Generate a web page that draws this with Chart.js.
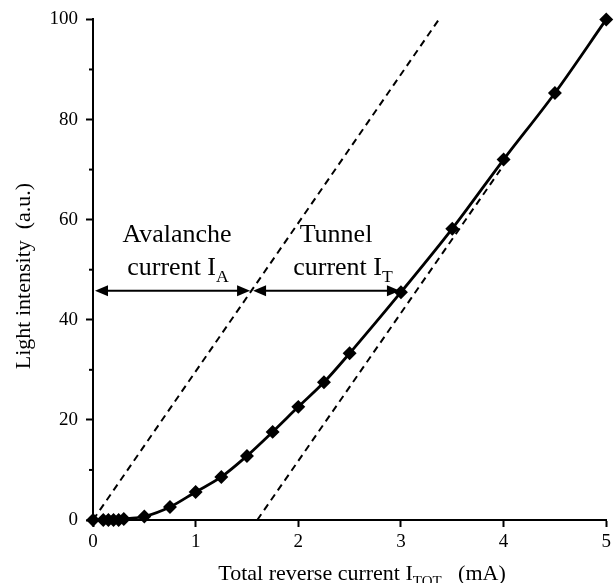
<!DOCTYPE html>
<html>
<head>
<meta charset="utf-8">
<script src="https://cdn.jsdelivr.net/npm/chart.js@4"></script>
<style>
  html, body { margin: 0; padding: 0; background: #fff; }
  #wrap { width: 615px; height: 583px; }
</style>
</head>
<body>
<div id="wrap"><canvas id="myChart"></canvas></div>
<script>
// measured curve
const currentMA = [0, 0.1, 0.15, 0.2, 0.25, 0.3, 0.5, 0.75, 1, 1.25, 1.5, 1.75, 2, 2.25, 2.5, 3, 3.5, 4, 4.5, 5];
const lightAU   = [0, 0, 0, 0, 0, 0.2, 0.7, 2.6, 5.6, 8.6, 12.8, 17.6, 22.6, 27.5, 33.3, 45.5, 58.2, 72, 85.3, 100];

// dashed guide lines
const avalancheX = [0, 3.37];
const avalancheY = [0, 100];
const tunnelX = [1.6, 3.97];
const tunnelY = [0, 70];

// arrows between the guides
const arrowY = 45.8;
const arrowStops = [0, 1.54, 3.0];

// axes
const xTicks = [0, 1, 2, 3, 4, 5];
const yTicks = [0, 20, 40, 60, 80, 100];
const yMinor = [10, 30, 50, 70, 90];

const SERIF = '"Liberation Serif", "DejaVu Serif", serif';

function pts(xs, ys) {
  return xs.map((x, i) => ({ x: x, y: ys[i] }));
}

// text with a subscript part
function drawSub(ctx, x, y, parts, size) {
  let cx = x;
  parts.forEach(p => {
    const sz = p.sub ? size * 0.68 : size;
    ctx.font = sz + 'px ' + SERIF;
    ctx.fillText(p.t, cx, p.sub ? y + size * 0.25 : y);
    cx += ctx.measureText(p.t).width;
  });
}
function widthSub(ctx, parts, size) {
  let w = 0;
  parts.forEach(p => {
    ctx.font = (p.sub ? size * 0.68 : size) + 'px ' + SERIF;
    w += ctx.measureText(p.t).width;
  });
  return w;
}

function arrowHead(ctx, x, y, dir) {
  ctx.beginPath();
  ctx.moveTo(x, y);
  ctx.lineTo(x - dir * 13, y - 5.5);
  ctx.lineTo(x - dir * 13, y + 5.5);
  ctx.closePath();
  ctx.fill();
}

const extras = {
  id: 'extras',
  afterDatasetsDraw(chart) {
    const ctx = chart.ctx;
    const xs = chart.scales.x, ys = chart.scales.y;
    ctx.save();
    ctx.strokeStyle = '#000';
    ctx.fillStyle = '#000';
    ctx.lineWidth = 2;
    const py = ys.getPixelForValue(arrowY);
    for (let i = 0; i < arrowStops.length - 1; i++) {
      const a = xs.getPixelForValue(arrowStops[i]) + 2;
      const b = xs.getPixelForValue(arrowStops[i + 1]) - 1;
      ctx.beginPath();
      ctx.moveTo(a + 4, py);
      ctx.lineTo(b - 4, py);
      ctx.stroke();
      arrowHead(ctx, a, py, -1);
      arrowHead(ctx, b, py, 1);
    }
    // minor ticks on y
    const left = chart.chartArea.left;
    yMinor.forEach(v => {
      const y = ys.getPixelForValue(v);
      ctx.beginPath();
      ctx.moveTo(left - 4, y);
      ctx.lineTo(left, y);
      ctx.stroke();
    });
    ctx.restore();
  },
  afterDraw(chart) {
    const ctx = chart.ctx;
    ctx.save();
    ctx.fillStyle = '#000';
    ctx.textBaseline = 'alphabetic';
    ctx.textAlign = 'left';

    const big = 26;
    ctx.font = big + 'px ' + SERIF;
    let w = ctx.measureText('Avalanche').width;
    ctx.fillText('Avalanche', 177 - w / 2, 242);
    let p = [{ t: 'current I' }, { t: 'A', sub: true }];
    w = widthSub(ctx, p, big);
    drawSub(ctx, 178 - w / 2, 275, p, big);

    ctx.font = big + 'px ' + SERIF;
    w = ctx.measureText('Tunnel').width;
    ctx.fillText('Tunnel', 336 - w / 2, 242);
    p = [{ t: 'current I' }, { t: 'T', sub: true }];
    w = widthSub(ctx, p, big);
    drawSub(ctx, 343 - w / 2, 275, p, big);

    // x title
    const tsz = 22;
    p = [{ t: 'Total reverse current I' }, { t: 'TOT', sub: true }, { t: '   (mA)' }];
    w = widthSub(ctx, p, tsz);
    drawSub(ctx, 362 - w / 2, 580, p, tsz);

    // y title
    ctx.translate(30, 276);
    ctx.rotate(-Math.PI / 2);
    ctx.font = tsz + 'px ' + SERIF;
    ctx.textAlign = 'center';
    ctx.fillText('Light intensity  (a.u.)', 0, 0);
    ctx.restore();
  }
};

const tickFont = { family: SERIF, size: 19 };

new Chart(document.getElementById('myChart'), {
  type: 'line',
  data: {
    datasets: [
      {
        data: pts(currentMA, lightAU),
        borderColor: '#000',
        backgroundColor: '#000',
        borderWidth: 2.8,
        pointStyle: 'rectRot',
        pointRadius: 5,
        pointHoverRadius: 5,
        cubicInterpolationMode: 'monotone',
        clip: false
      },
      {
        data: pts(avalancheX, avalancheY),
        borderColor: '#000',
        borderWidth: 2,
        borderDash: [7, 5],
        pointRadius: 0
      },
      {
        data: pts(tunnelX, tunnelY),
        borderColor: '#000',
        borderWidth: 2,
        borderDash: [7, 5],
        pointRadius: 0
      }
    ]
  },
  options: {
    responsive: true,
    maintainAspectRatio: false,
    animation: false,
    events: [],
    layout: { padding: { left: 0, top: 19, right: 6, bottom: 0 } },
    plugins: { legend: { display: false }, tooltip: { enabled: false } },
    scales: {
      x: {
        type: 'linear',
        min: 0,
        max: 5,
        afterBuildTicks: s => { s.ticks = xTicks.map(v => ({ value: v })); },
        afterFit: s => { s.height = 63; },
        ticks: { font: tickFont, color: '#000', padding: 4, maxRotation: 0 },
        grid: { drawOnChartArea: false, tickLength: 7, tickWidth: 2, tickColor: '#000' },
        border: { color: '#000', width: 2 }
      },
      y: {
        min: 0,
        max: 100,
        afterBuildTicks: s => { s.ticks = yTicks.map(v => ({ value: v })); },
        afterFit: s => { s.width = 93; },
        ticks: { font: tickFont, color: '#000', padding: 8 },
        grid: { drawOnChartArea: false, tickLength: 7, tickWidth: 2, tickColor: '#000' },
        border: { color: '#000', width: 2 }
      }
    }
  },
  plugins: [extras]
});
</script>
</body>
</html>
